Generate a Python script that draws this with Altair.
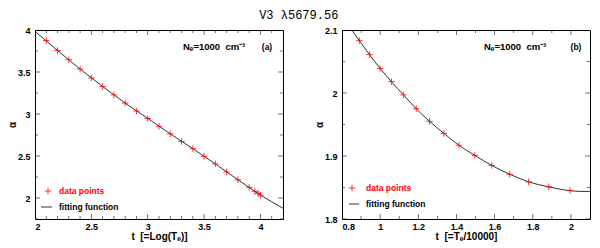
import altair as alt
import pandas as pd

# ---------------- data ----------------
# panel (a): t = log(Te)
t_a = [2.1, 2.2, 2.3, 2.4, 2.5, 2.6, 2.7, 2.8, 2.9, 3.0, 3.1, 3.2, 3.3, 3.4,
       3.5, 3.6, 3.7, 3.8, 3.9, 3.95, 3.98, 4.0]
alpha_a = [3.874, 3.756, 3.646, 3.535, 3.429, 3.327, 3.228, 3.130, 3.035, 2.947,
           2.854, 2.764, 2.673, 2.587, 2.496, 2.406, 2.311, 2.217, 2.126, 2.079,
           2.055, 2.035]
fit_t_a = [2.0, 2.2, 2.4, 2.6, 2.8, 3.0, 3.2, 3.4, 3.6, 3.8, 4.0, 4.1, 4.2]
fit_alpha_a = [3.984, 3.756, 3.535, 3.327, 3.130, 2.947, 2.764, 2.587, 2.406,
               2.217, 2.035, 1.955, 1.878]

# panel (b): t = Te/10000
t_b = [0.891, 0.944, 1.0, 1.059, 1.122, 1.189, 1.259, 1.334, 1.413, 1.496,
       1.585, 1.679, 1.778, 1.884, 1.995]
alpha_b = [2.083, 2.061, 2.039, 2.018, 1.997, 1.975, 1.955, 1.936, 1.917, 1.901,
           1.885, 1.871, 1.859, 1.851, 1.845]
fit_t_b = [0.83, 0.891, 0.944, 1.0, 1.059, 1.122, 1.189, 1.259, 1.334, 1.413,
           1.496, 1.585, 1.679, 1.778, 1.884, 1.995, 2.05, 2.1]
fit_alpha_b = [2.109, 2.083, 2.061, 2.039, 2.018, 1.997, 1.975, 1.955, 1.936,
               1.917, 1.901, 1.885, 1.871, 1.859, 1.851, 1.845, 1.8438, 1.8437]

# axis tick values
xmaj_a = [2, 2.5, 3, 3.5, 4]
xmin_a = [2.1, 2.2, 2.3, 2.4, 2.6, 2.7, 2.8, 2.9, 3.1, 3.2, 3.3, 3.4, 3.6, 3.7,
          3.8, 3.9, 4.1]
ymaj_a = [2, 2.5, 3, 3.5, 4]
ymin_a = [1.75, 2.25, 2.75, 3.25, 3.75]
xmaj_b = [0.8, 1, 1.2, 1.4, 1.6, 1.8, 2]
xmin_b = [0.9, 1.1, 1.3, 1.5, 1.7, 1.9]
ymaj_b = [1.8, 1.9, 2, 2.1]
ymin_b = [1.85, 1.95, 2.05]

title_text = "V3 λ5679.56"
ne_text = "Nₑ=1000\u00a0 cm⁻³"

FONT = "Liberation Sans"
W, H = 248, 189


def tick_df(major, minor, maj_len, min_len):
    return pd.DataFrame({
        "v": list(major) + list(minor),
        "len": [2 * maj_len] * len(major) + [2 * min_len] * len(minor),
    })


def panel(t, a, ft, fa, xdom, ydom, xmaj, xmin, ymaj, ymin, xtitle, tag,
          leg, ann_x, tag_x, interp):
    xs = alt.Scale(domain=xdom, nice=False, zero=False)
    ys = alt.Scale(domain=ydom, nice=False, zero=False)

    fit = alt.Chart(pd.DataFrame({"t": ft, "a": fa})).mark_line(
        color="black", strokeWidth=0.8, clip=True, interpolate=interp
    ).encode(
        x=alt.X("t:Q", scale=xs,
                axis=alt.Axis(values=xmaj, format="~g", title=xtitle,
                              ticks=False, domain=False, grid=False,
                              labelPadding=3, titlePadding=0)),
        y=alt.Y("a:Q", scale=ys,
                axis=alt.Axis(values=ymaj, format="~g", title="α",
                              ticks=False, domain=False, grid=False,
                              labelPadding=5, titlePadding=0,
                              titleFontSize=10)),
    )

    pts = alt.Chart(pd.DataFrame({"t": t, "a": a})).mark_point(
        shape="M-1,0L1,0M0,-1L0,1", filled=False, color="red",
        strokeWidth=0.8, size=42, opacity=1
    ).encode(x="t:Q", y="a:Q")

    xt = tick_df(xmaj, xmin, 5, 3)
    yt = tick_df(ymaj, ymin, 5, 3)
    bottom = alt.Chart(xt).mark_tick(orient="vertical", clip=True, color="black",
                                      thickness=0.8).encode(
        x="v:Q", y=alt.datum(ydom[0]), size=alt.Size("len:Q", scale=None))
    top = alt.Chart(xt).mark_tick(orient="vertical", clip=True, color="black",
                                   thickness=0.8).encode(
        x="v:Q", y=alt.datum(ydom[1]), size=alt.Size("len:Q", scale=None))
    left = alt.Chart(yt).mark_tick(orient="horizontal", clip=True, color="black",
                                    thickness=0.8).encode(
        y="v:Q", x=alt.datum(xdom[0]), size=alt.Size("len:Q", scale=None))
    right = alt.Chart(yt).mark_tick(orient="horizontal", clip=True, color="black",
                                     thickness=0.8).encode(
        y="v:Q", x=alt.datum(xdom[1]), size=alt.Size("len:Q", scale=None))

    (px, py, tx, lx1, lx2, ly) = leg
    leg_pt = alt.Chart(pd.DataFrame({"k": ["data points"]})).mark_point(
        shape="M-1,0L1,0M0,-1L0,1", filled=False, color="red",
        strokeWidth=0.8, size=42, opacity=1
    ).encode(x=alt.value(px), y=alt.value(py))
    leg_pt_txt = alt.Chart(pd.DataFrame({"k": ["data points"]})).mark_text(
        align="left", baseline="middle", font=FONT, fontSize=8.5,
        fontWeight="bold", color="red"
    ).encode(x=alt.value(tx), y=alt.value(py), text="k:N")
    leg_ln = alt.Chart(pd.DataFrame({"k": ["fitting function"]})).mark_rule(
        color="black", strokeWidth=0.8
    ).encode(x=alt.value(lx1), x2=alt.value(lx2), y=alt.value(ly))
    leg_ln_txt = alt.Chart(pd.DataFrame({"k": ["fitting function"]})).mark_text(
        align="left", baseline="middle", font=FONT, fontSize=8.5,
        fontWeight="bold", color="black"
    ).encode(x=alt.value(tx), y=alt.value(ly), text="k:N")

    ann = alt.Chart(pd.DataFrame({"k": [ne_text]})).mark_text(
        align="left", baseline="middle", font=FONT, fontSize=9.5,
        fontWeight="bold", color="black"
    ).encode(x=alt.value(ann_x), y=alt.value(17), text="k:N")
    tag_m = alt.Chart(pd.DataFrame({"k": [tag]})).mark_text(
        align="center", baseline="middle", font=FONT, fontSize=8.5,
        fontWeight="bold", color="black"
    ).encode(x=alt.value(tag_x), y=alt.value(17), text="k:N")

    return alt.layer(fit, pts, bottom, top, left, right, leg_pt, leg_pt_txt,
                     leg_ln, leg_ln_txt, ann, tag_m).properties(width=W, height=H)


pa = panel(t_a, alpha_a, fit_t_a, fit_alpha_a, [2, 4.2], [1.75, 4],
           xmaj_a, xmin_a, ymaj_a, ymin_a, "t\u00a0 [=Log(Tₑ)]", "(a)",
           (13, 161, 24, 6, 17, 177), 148, 232, "linear")
pb = panel(t_b, alpha_b, fit_t_b, fit_alpha_b, [0.8, 2.1], [1.8, 2.1],
           xmaj_b, xmin_b, ymaj_b, ymin_b, "t\u00a0 [=Tₑ/10000]", "(b)",
           (10, 158, 24, 7, 17, 174), 142, 234, "monotone")

chart = alt.hconcat(pa, pb, spacing=29).properties(
    title=alt.TitleParams(title_text, font="Liberation Mono", fontSize=12,
                          fontWeight="normal", anchor="middle", offset=4,
                          color="black"),
    padding={"left": -2, "top": 0, "right": 0, "bottom": 0},
).configure_view(
    stroke="black", strokeWidth=1
).configure_axis(
    labelFont=FONT, labelFontSize=9, labelFontWeight="bold", labelColor="black",
    titleFont=FONT, titleFontSize=10, titleFontWeight="bold", titleColor="black",
)

chart.save("out.html", embed_options={"renderer": "svg", "actions": False})
